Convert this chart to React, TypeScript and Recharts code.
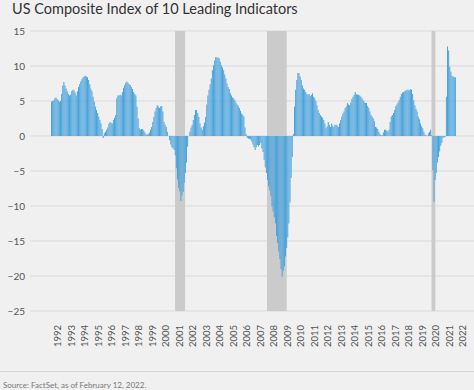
import React from "react";
import {
  ComposedChart,
  Bar,
  XAxis,
  YAxis,
  CartesianGrid,
  ReferenceArea,
} from "recharts";

const title = "US Composite Index of 10 Leading Indicators";
const source = "Source: FactSet, as of February 12, 2022.";

const firstYear = 1992;

// monthly values, Jan 1992 onwards
const nineties = [
  4.9, 5.0, 5.1, 5.4, 5.5, 5.3, 5.1, 4.9, 5.0, 6.0, 7.2, 7.7,
  7.2, 6.8, 6.4, 6.0, 5.8, 5.9, 6.4, 6.6, 6.5, 6.2, 5.8, 6.4,
  7.0, 7.4, 7.8, 8.1, 8.4, 8.5, 8.6, 8.5, 8.4, 8.0, 7.4, 6.8,
  6.4, 5.6, 4.9, 4.2, 3.7, 3.3, 2.8, 2.3, 1.8, 1.0, -0.3, 0.4,
  0.6, 0.9, 1.2, 1.8, 2.0, 1.9, 1.8, 2.3, 2.6, 3.0, 5.4, 5.8,
  5.8, 5.9, 5.8, 6.3, 6.9, 7.3, 7.6, 7.8, 7.6, 7.4, 7.3, 7.0,
  6.7, 6.3, 6.0, 5.8, 4.2, 2.5, 1.1, 0.9, 1.0, 1.0, 0.8, 0.5,
  0.2, 0.2, 0.3, 0.5, 0.9, 1.3, 2.0, 2.7, 3.5, 4.0, 4.4, 4.2,
];

const noughties = [
  4.0, 4.2, 4.3, 3.5, 2.0, 1.6, 1.3, 0.6, 0.0, -0.6, -1.2, -1.6,
  -1.8, -2.0, -2.8, -4.6, -6.2, -7.4, -7.9, -9.3, -8.5, -8.0, -6.7, -5.3,
  -3.8, -1.5, 0.0, 0.6, 1.2, 1.6, 2.3, 3.0, 3.7, 3.7, 3.3, 2.7,
  1.8, 1.2, 0.9, 1.4, 1.9, 2.7, 4.5, 5.8, 6.6, 7.4, 8.2, 9.4,
  10.1, 10.8, 11.3, 11.2, 11.2, 11.1, 10.6, 10.1, 9.8, 9.4, 8.8, 8.2,
  7.5, 7.0, 6.7, 6.1, 5.8, 5.5, 5.4, 5.1, 4.8, 4.5, 4.3, 4.0,
  3.6, 3.2, 3.0, 2.8, 1.2, 0.3, -0.3, -0.4, -0.4, -0.5, -0.8, -1.2,
  -1.6, -2.0, -1.6, -1.3, -1.5, -1.3, -1.0, -1.8, -2.3, -3.4, -4.5, -5.3,
  -6.3, -7.2, -7.8, -8.6, -10.1, -10.8, -11.6, -12.5, -14.3, -15.3, -16.5, -17.6,
  -19.0, -20.1, -19.3, -18.6, -17.2, -16.0, -14.5, -12.5, -9.5, -6.0, -3.0, 0.3,
];

const tens = [
  4.2, 6.6, 8.0, 9.0, 9.0, 8.5, 8.0, 7.2, 6.8, 6.6, 6.3, 6.0,
  5.9, 6.0, 5.7, 5.9, 6.1, 5.6, 5.4, 5.0, 4.4, 3.7, 3.3, 3.0,
  2.8, 2.6, 2.3, 1.8, 1.1, 1.4, 2.0, 1.6, 1.3, 1.8, 1.5, 1.3,
  1.6, 1.6, 1.5, 1.3, 1.8, 2.3, 2.8, 3.2, 3.5, 4.0, 4.2, 4.7,
  4.5, 4.4, 4.8, 5.3, 5.6, 5.9, 6.3, 6.0, 5.9, 5.9, 5.8, 5.6,
  5.4, 5.1, 4.9, 4.7, 4.7, 4.3, 4.0, 3.5, 3.0, 2.8, 2.5, 2.1,
  1.3, 1.2, 1.0, 0.6, 0.3, 0.1, 0.1, 0.5, 0.9, 0.9, 0.8, 0.6,
  0.9, 2.0, 2.8, 3.0, 3.3, 3.7, 4.2, 4.5, 4.8, 5.1, 5.6, 6.0,
  6.2, 6.3, 6.4, 6.5, 6.6, 6.6, 6.5, 6.7, 6.6, 6.0, 5.1, 4.4,
  3.9, 3.5, 2.8, 2.4, 1.8, 1.4, 1.1, 0.6, 0.2, 0.1, 0.0, 0.4,
];

const twenties = [
  0.6, 0.9, 0.1, -4.9, -9.4, -6.3, -5.3, -3.8, -3.0, -2.2, -1.4, -1.0,
  -0.3, -0.2, -0.1, 5.6, 12.8, 12.2, 9.9, 9.2, 8.6, 8.5, 8.4, 8.4,
];

// recessions as [start, end] in fractional years
const recessions = [
  [2001.19, 2001.93],
  [2008.0, 2009.46],
  [2020.19, 2020.47],
];

const yearTicks = [
  1992, 1993, 1994, 1995, 1996, 1997, 1998, 1999, 2000, 2001, 2002,
  2003, 2004, 2005, 2006, 2007, 2008, 2009, 2010, 2011, 2012, 2013,
  2014, 2015, 2016, 2017, 2018, 2019, 2020, 2021, 2022,
];
const yTicks = [-25, -20, -15, -10, -5, 0, 5, 10, 15];

const monthly = [...nineties, ...noughties, ...tens, ...twenties];
const data = monthly.map((v, i) => ({
  t: firstYear + (i + 0.5) / 12,
  v,
}));

const font = "Lato, 'Open Sans', sans-serif";

function YearTick({ x, y, payload }: any) {
  return (
    <g transform={`translate(${x},${y})`}>
      <text
        transform="rotate(-90)"
        x={-12}
        y={0}
        textAnchor="end"
        dominantBaseline="central"
        fontSize={9.5}
        fill="#555"
        fontFamily={font}
      >
        {Math.floor(payload.value)}
      </text>
    </g>
  );
}

export default function App() {
  return (
    <div
      style={{
        position: "absolute",
        left: 0,
        top: 0,
        width: 474,
        height: 390,
        background: "#f0f0f0",
        fontFamily: font,
        overflow: "hidden",
      }}
    >
      <div
        style={{
          position: "absolute",
          left: 12,
          top: 0,
          fontSize: 14.5,
          color: "#333",
          whiteSpace: "nowrap",
        }}
      >
        {title}
      </div>
      <div style={{ position: "absolute", left: 0, top: 0 }}>
        <ComposedChart
          width={474}
          height={360}
          data={data}
          margin={{ top: 31, right: 0, bottom: 0, left: 0 }}
        >
          <CartesianGrid vertical={false} stroke="#d9d9d9" />
          {recessions.map(([a, b], i) => (
            <ReferenceArea
              key={i}
              x1={a}
              x2={b}
              y1={-25}
              y2={15}
              fill="#cbcbcb"
              fillOpacity={1}
              stroke="none"
            />
          ))}
          <XAxis
            dataKey="t"
            type="number"
            domain={[1990.444, 2023.333]}
            allowDataOverflow
            ticks={yearTicks.map((y) => y + 0.5)}
            interval={0}
            tick={<YearTick />}
            tickLine={false}
            axisLine={false}
            tickSize={0}
            height={49}
          />
          <YAxis
            type="number"
            domain={[-25, 15]}
            allowDataOverflow
            ticks={yTicks}
            interval={0}
            width={30}
            tickLine={false}
            axisLine={false}
            tickSize={0}
            tickMargin={5}
            tick={{ fontSize: 10, fill: "#555", fontFamily: font }}
            tickFormatter={(v) => (v < 0 ? `\u2212${-v}` : `${v}`)}
          />
          <Bar dataKey="v" fill="#4ba3dc" barSize={1.3} isAnimationActive={false} />
        </ComposedChart>
      </div>
      <div
        style={{
          position: "absolute",
          left: 0,
          top: 371,
          width: 474,
          height: 1,
          background: "#d4d4d4",
        }}
      />
      <div
        style={{
          position: "absolute",
          left: 3,
          top: 380,
          fontSize: 8,
          color: "#777",
          whiteSpace: "nowrap",
        }}
      >
        {source}
      </div>
    </div>
  );
}
